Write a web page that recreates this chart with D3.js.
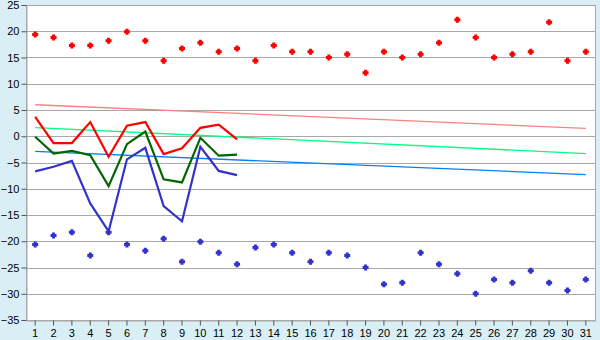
<!DOCTYPE html>
<html><head><meta charset="utf-8">
<script src="https://cdn.jsdelivr.net/npm/d3@7"></script>
<style>
html,body{margin:0;padding:0;background:#D9EFF5;}
svg{display:block;}
text{font-family:"Liberation Sans",Arial,sans-serif;font-size:11px;fill:#000;}
</style></head><body>
<svg id="c" width="600" height="340"></svg>
<script>
const days = d3.range(1, 32);
const yTicks = [25, 20, 15, 10, 5, 0, -5, -10, -15, -20, -25, -30, -35];

const maxPoints = [19.4, 18.8, 17.3, 17.3, 18.2, 19.9, 18.2, 14.4, 16.7, 17.8, 16.1, 16.7, 14.4, 17.3, 16.1, 16.1, 15.0, 15.6, 12.1, 16.1, 15.0, 15.6, 17.8, 22.2, 18.8, 15.0, 15.6, 16.1, 21.7, 14.4, 16.1];
const minPoints = [-20.6, -18.9, -18.3, -22.7, -18.3, -20.6, -21.8, -19.5, -23.9, -20.1, -22.2, -24.4, -21.2, -20.6, -22.2, -23.9, -22.2, -22.7, -25.0, -28.2, -27.9, -22.2, -24.4, -26.2, -30.0, -27.3, -27.9, -25.6, -27.9, -29.4, -27.3];

const redLine = [3.7, -1.3, -1.3, 2.7, -3.9, 2.0, 2.7, -3.4, -2.3, 1.6, 2.2, -0.6];
const greenLine = [-0.1, -3.3, -2.8, -3.6, -9.5, -1.5, 0.9, -8.2, -8.8, -0.3, -3.7, -3.5];
const blueLine = [-6.7, -5.8, -4.7, -12.8, -18.1, -4.4, -2.2, -13.3, -16.2, -2.0, -6.6, -7.4];

const trendDays = [1, 31];
const trendMax = [6.0, 1.5];
const trendMean = [1.65, -3.3];
const trendMin = [-2.9, -7.3];

const svg = d3.select("#c");
const L = 26, R = 595, T = 5, B = 320;

const x = d3.scaleBand().domain(days).range([L, R]).padding(0);
const xc = d => x(d) + x.bandwidth() / 2;
const y = d3.scaleLinear().domain([-35, 25]).range([B, T]);

// plot area
svg.append("rect").attr("x", L).attr("y", T).attr("width", R - L).attr("height", B - T)
  .attr("fill", "#fff").attr("stroke", "#A8A8A8").attr("stroke-width", 1)
  .attr("shape-rendering", "crispEdges");

// gridlines
svg.append("g").selectAll("line").data(yTicks).join("line")
  .attr("x1", L).attr("x2", R).attr("y1", d => Math.round(y(d)) + 0.5).attr("y2", d => Math.round(y(d)) + 0.5)
  .attr("stroke", "#A8A8A8").attr("stroke-width", 1);

// y axis
const yAxis = d3.axisLeft(y).tickValues(yTicks).tickSize(5).tickPadding(2)
  .tickFormat(d => d < 0 ? "\u2212" + Math.abs(d) : d);
const gy = svg.append("g").attr("transform", `translate(${L + 0.5},0)`).call(yAxis);
gy.select(".domain").attr("stroke", "#A8A8A8");
gy.selectAll(".tick line").attr("stroke", "#555");
gy.selectAll("text").attr("font-size", 11).attr("font-family", "Liberation Sans, Arial, sans-serif");

// x axis
const xAxis = d3.axisBottom(x).tickValues(days).tickSize(5).tickPadding(4).tickSizeOuter(0);
const gx = svg.append("g").attr("transform", `translate(0,${B + 0.5})`).call(xAxis);
gx.select(".domain").attr("stroke", "#A8A8A8");
gx.selectAll(".tick line").attr("stroke", "#555");
gx.selectAll("text").attr("font-size", 11).attr("font-family", "Liberation Sans, Arial, sans-serif");

// trend lines
const tl = d3.line().x((d, i) => xc(trendDays[i])).y(d => y(d));
[[trendMax, "#FF8080"], [trendMean, "#00FF80"], [trendMin, "#0080FF"]].forEach(([data, col]) => {
  svg.append("path").datum(data).attr("d", tl).attr("fill", "none").attr("stroke", col).attr("stroke-width", 1.3);
});

// main lines
const ml = d3.line().x((d, i) => xc(days[i])).y(d => y(d));
[[redLine, "#FF0000"], [greenLine, "#006600"], [blueLine, "#3333CC"]].forEach(([data, col]) => {
  svg.append("path").datum(data).attr("d", ml).attr("fill", "none").attr("stroke", col)
    .attr("stroke-width", 2.2).attr("stroke-linejoin", "miter");
});

// markers (small plus shapes)
const cross = "M-1.5,-3H1.5V-1.5H3V1.5H1.5V3H-1.5V1.5H-3V-1.5H-1.5Z";
svg.append("g").selectAll("path").data(maxPoints).join("path")
  .attr("d", cross).attr("fill", "#FF0000")
  .attr("transform", (d, i) => `translate(${xc(days[i])},${y(d)})`);
svg.append("g").selectAll("path").data(minPoints).join("path")
  .attr("d", cross).attr("fill", "#3333CC")
  .attr("transform", (d, i) => `translate(${xc(days[i])},${y(d)})`);
</script>
</body></html>
